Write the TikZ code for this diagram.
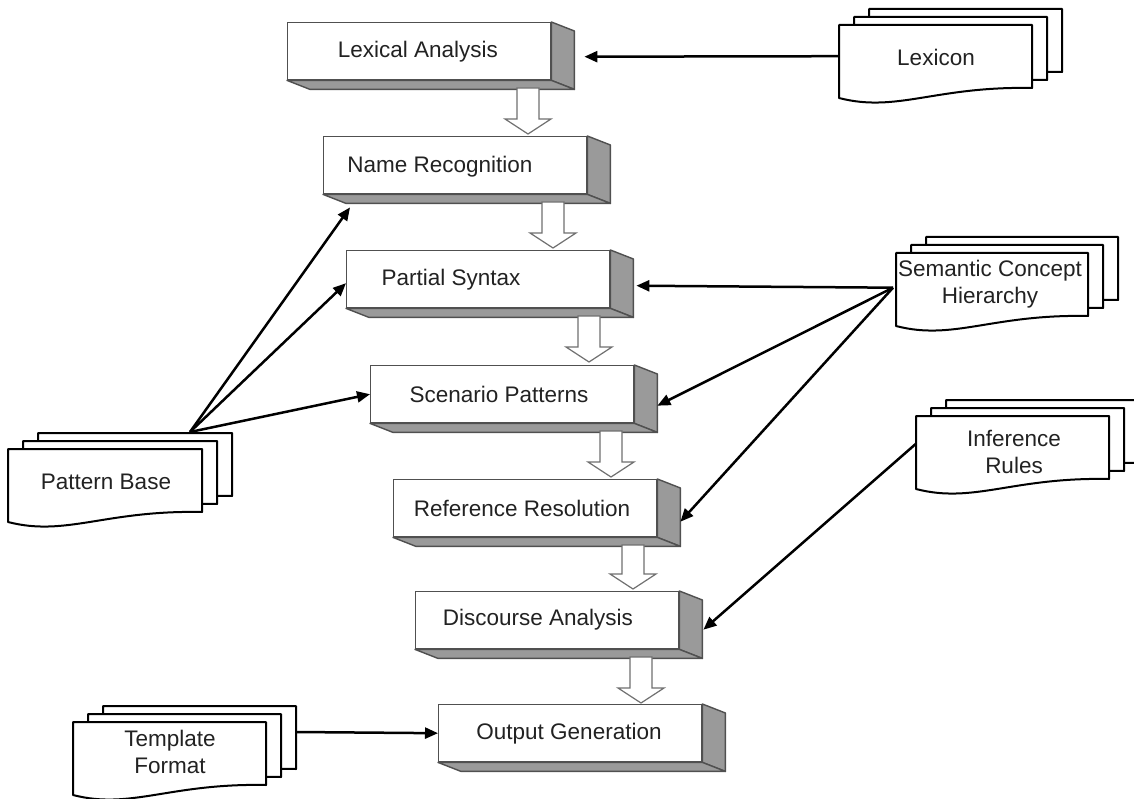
\documentclass[tikz,border=0pt]{standalone}
\usepackage{fontspec}
\setmainfont{Liberation Sans}
\usetikzlibrary{arrows.meta,calc}
\definecolor{boxline}{HTML}{505050}
\definecolor{sidefill}{HTML}{9A9A9A}
\definecolor{txt}{HTML}{222222}
\definecolor{blockline}{HTML}{707070}
\tikzset{
  procbox/.style={draw=boxline, line width=1.4pt, fill=white, minimum width=263pt, minimum height=57pt, inner sep=0pt, anchor=north west},
  sideface/.style={draw=boxline, line width=1.4pt, fill=sidefill, line join=round},
  boxtext/.style={text=txt, font=\fontsize{22.5}{27}\selectfont},
  doctext/.style={text=txt, font=\fontsize{22.5}{27}\selectfont, align=center},
  docline/.style={draw=black, line width=2pt, fill=white, line join=round},
  docnode/.style={minimum width=193pt, minimum height=63pt, inner sep=0pt, anchor=north west},
  conn/.style={draw=black, line width=2.5pt, -{Triangle[length=13pt,width=11pt]}},
  blockarrow/.style={draw=blockline, line width=1.2pt, fill=white, line join=miter}
}
% one document sheet: x, y, w
\newcommand\onedoc[3]{%
  \filldraw[docline] (#1,#2) -- ({#1+#3},#2) -- ({#1+#3},{#2+63})
    .. controls ({#1+0.5*#3},{#2+61}) and ({#1+0.3*#3},{#2+88}) .. (#1,{#2+73}) -- cycle;}
% stack of three documents: name, x, y, w, text
\newcommand\docstack[5]{%
  \onedoc{#2+30}{#3-16}{#4}
  \onedoc{#2+15}{#3-8}{#4}
  \onedoc{#2}{#3}{#4}
  \node[docnode, minimum width=#4pt] (#1) at (#2,#3) {};}
% process box: name, x, y
\newcommand\procnode[3]{%
  \node[procbox] (#1) at (#2,#3) {};
  \filldraw[sideface] (#1.north east) -- ++(23,9) -- ($(#1.south east)+(23,9)$) -- (#1.south east) -- cycle;
  \filldraw[sideface] (#1.south west) -- (#1.south east) -- ++(23,9) -- ($(#1.south west)+(23,9)$) -- cycle;}
% hollow block arrow: cx, ytop, ytip
\newcommand\blockarr[3]{%
  \filldraw[blockarrow] ({#1-11},#2) -- ({#1+11},#2) -- ({#1+11},{#3-15}) -- ({#1+23},{#3-15})
    -- (#1,#3) -- ({#1-23},{#3-15}) -- ({#1-11},{#3-15}) -- cycle;}
\begin{document}
\begin{tikzpicture}[x=1pt,y=-1pt]
\useasboundingbox (0,0) rectangle (1134,799);
\fill[white] (0,0) rectangle (1134,799);

% documents
\docstack{lex}{839}{25}{193}{}
\node[doctext] (lext) at (936,57) {Lexicon};
\docstack{sch}{896}{253}{192}{}
\node[doctext] (scht) at (990,284) {Semantic Concept\\Hierarchy};
\docstack{inf}{916}{416}{193}{}
\node[doctext] (inft) at (1014,452) {Inference\\Rules};
\docstack{pb}{8}{449}{194}{}
\node[doctext] (pbt) at (106,482) {Pattern Base};
\docstack{tf}{73}{722}{193}{}
\node[doctext] (tft) at (170,752) {Template\\Format};

% process boxes
\procnode{b1}{287}{22}
\procnode{b2}{323}{136}
\procnode{b3}{346}{250}
\procnode{b4}{370}{365}
\procnode{b5}{393}{479}
\procnode{b6}{415}{591}
\procnode{b7}{438}{704}
\node[boxtext] (t1) at (418,52) {Lexical Analysis};
\node[boxtext] (t2) at (440,167) {Name Recognition};
\node[boxtext] (t3) at (451,280) {Partial Syntax};
\node[boxtext] (t4) at (499,394) {Scenario Patterns};
\node[boxtext] (t5) at (522,508) {Reference Resolution};
\node[boxtext] (t6) at (538,620) {Discourse Analysis};
\node[boxtext] (t7) at (569,734) {Output Generation};

% hollow flow arrows
\blockarr{528}{88}{134}
\blockarr{553}{202}{248}
\blockarr{589}{316}{362}
\blockarr{611}{431}{477}
\blockarr{633}{545}{589}
\blockarr{641}{657}{703}

% connector ends
\coordinate (lexsrc) at ($(lex.west)+(0,-0.5)$);
\coordinate (b1in) at ($(b1.east)+(33,5.5)$);
\coordinate (schsrc) at ($(sch.west)+(-3,3)$);
\coordinate (b3in) at ($(b3.east)+(26,6.5)$);
\coordinate (b4in) at ($(b4.east)+(23,11.5)$);
\coordinate (b5in) at ($(b5.east)+(23,13.5)$);
\coordinate (infsrc) at ($(inf.west)+(0,-4)$);
\coordinate (b6in) at ($(b6.east)+(24,9.5)$);
\coordinate (pbsrc) at (190,432);
\coordinate (b2in) at ($(b2.south west)+(27,13)$);
\coordinate (b3w) at ($(b3.west)+(0,4)$);
\coordinate (tfsrc) at (296,732);

% connectors
\draw[conn] (lexsrc) -- (b1in);
\draw[conn] (schsrc) -- (b3in);
\draw[conn] (schsrc) -- (b4in);
\draw[conn] (schsrc) -- (b5in);
\draw[conn] (infsrc) -- (b6in);
\draw[conn] (pbsrc) -- (b2in);
\draw[conn] (pbsrc) -- (b3w);
\draw[conn] (pbsrc) -- (b4.west);
\draw[conn] (tfsrc) -- (b7.west);
\end{tikzpicture}
\end{document}
